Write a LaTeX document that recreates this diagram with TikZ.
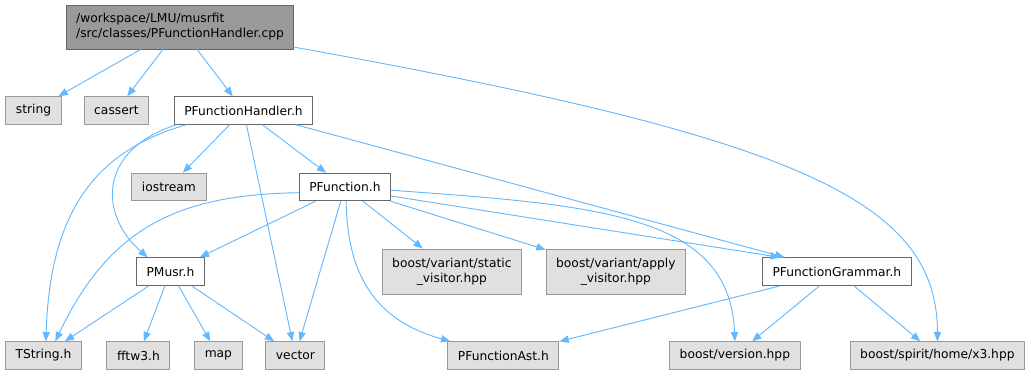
\documentclass[tikz,border=0pt]{standalone}
\usepackage{fontspec}
\setmainfont{DejaVu Sans}
\usepackage{xcolor}
\usetikzlibrary{arrows.meta}
\usetikzlibrary{positioning}
\definecolor{edgeblue}{HTML}{63B8FF}
\definecolor{sysfill}{HTML}{E0E0E0}
\definecolor{sysline}{HTML}{999999}
\definecolor{ownline}{HTML}{666666}
\definecolor{rootfill}{HTML}{999999}

\begin{document}
\begin{tikzpicture}[x=0.75pt,y=-0.75pt,on grid]
			\tikzstyle{every node}=[draw,rectangle,font=\fontsize{9.2}{11.25}\selectfont,minimum height=20.6pt,inner xsep=7.6pt,inner ysep=2pt,line width=0.75pt]
			\tikzstyle{sysfile}=[fill=sysfill,draw=sysline]
			\tikzstyle{ownfile}=[fill=white,draw=ownline]
			\tikzstyle{twoline}=[align=center,minimum height=33.75pt]
			\tikzstyle{dep}=[->,>={Triangle[length=7pt,width=5.5pt]},color=edgeblue,line width=0.7pt]

			\useasboundingbox (0,0) rectangle (1031,375);

			\node (root) [fill=rootfill,draw=ownline,align=left,minimum height=33pt] at (180,27) {/workspace/LMU/musrfit\\/src/classes/PFunctionHandler.cpp};
			\node (PFH) [ownfile,below right=62.6pt and 47.6pt of root] {PFunctionHandler.h};
			\node (cassert) [sysfile,left=95.25pt of PFH] {cassert};
			\node (string) [sysfile,left=62.25pt of cassert] {string};
			\node (iostream) [sysfile,below left=57.4pt and 55.9pt of PFH] {iostream};
			\node (PFunction) [ownfile,right=132pt of iostream] {PFunction.h};
			\node (PMusr) [ownfile,below right=63.4pt and 1.1pt of iostream] {PMusr.h};
			\node (static) [sysfile,twoline,right=211.1pt of PMusr] {boost/variant/static\\\_visitor.hpp};
			\node (apply) [sysfile,twoline,right=123pt of static] {boost/variant/apply\\\_visitor.hpp};
			\node (Grammar) [ownfile,right=165.75pt of apply] {PFunctionGrammar.h};
			\node (TString) [sysfile,below left=63pt and 95.25pt of PMusr] {TString.h};
			\node (fftw3) [sysfile,right=71.25pt of TString] {fftw3.h};
			\node (map) [sysfile,right=60pt of fftw3] {map};
			\node (vector) [sysfile,right=57.75pt of map] {vector};
			\node (Ast) [sysfile,right=156pt of vector] {PFunctionAst.h};
			\node (version) [sysfile,right=173.6pt of Ast] {boost/version.hpp};
			\node (x3) [sysfile,right=151.9pt of version] {boost/spirit/home/x3.hpp};

			\path[dep]
			(root) edge (string)
			(root) edge (cassert)
			(root) edge (PFH)
			(PFH) edge (iostream)
			(PFH) edge (vector)
			(PFH) edge (PFunction)
			(PFH) edge (Grammar)
			(PFunction) edge (PMusr)
			(PFunction) edge (vector)
			(PFunction) edge (static)
			(PFunction) edge (apply)
			(PFunction.-11) edge (Grammar.166)
			(PMusr) edge (TString)
			(PMusr) edge (fftw3)
			(PMusr) edge (map)
			(PMusr) edge (vector)
			(Grammar) edge (Ast)
			(Grammar) edge (version)
			(Grammar) edge (x3);

			% curved dependencies
			\draw[dep] (root.-10) .. controls +(500,90) and +(0,-142) .. (x3.north);
			\draw[dep] (PFH.194) .. controls +(-90,26) and +(4,-131) .. (TString.80);
			\draw[dep] (PFH.192) .. controls +(-80,26) and +(-48,-42) .. (PMusr.148);
			\draw[dep] (PFunction.187) .. controls +(-118,2) and +(55,-116) .. (TString.50);
			\draw[dep] (PFunction.-85) .. controls +(1,89) and +(-61,-17) .. (Ast.165);
			\draw[dep] (PFunction.-4) .. controls +(208,15) and +(-5,-127) .. (version.north);

		\end{tikzpicture}
\end{document}
